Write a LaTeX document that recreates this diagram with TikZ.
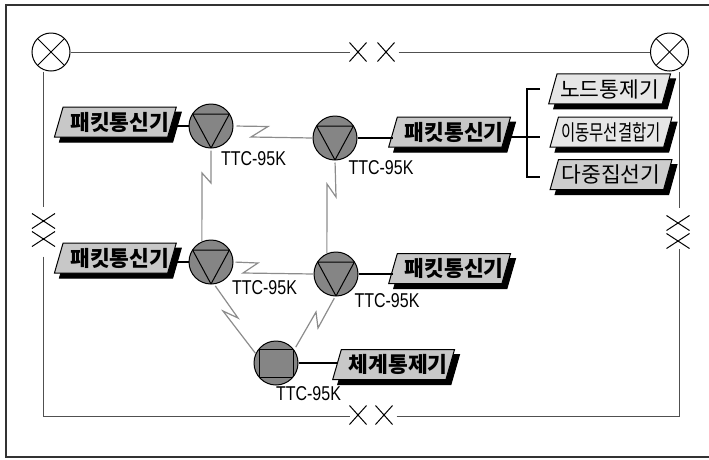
\documentclass[tikz,border=0pt]{standalone}
\usepackage{fontspec}
\newfontfamily\krfont{Noto Sans CJK KR}
\newfontfamily\latfont{Liberation Sans}
\usetikzlibrary{positioning,calc,shadows,shapes.geometric,shapes.misc}
\definecolor{inkgray}{HTML}{505050}
\definecolor{linkgray}{HTML}{8C8C8C}
\definecolor{nodegray}{HTML}{858585}
\definecolor{boxgray}{HTML}{C8C8C8}
\definecolor{boxlight}{HTML}{E6E6E6}
\newcommand{\ttclabel}{\scalebox{0.8}[1]{TTC-95K}}

\begin{document}
\begin{tikzpicture}[
    x=1pt,
    y=-1pt,
    font=\krfont,
    xcirc/.style={
        circle, draw, line width=1pt, inner sep=0pt, minimum size=38pt,
        path picture={
            \draw[line width=1pt] (path picture bounding box.north west) -- (path picture bounding box.south east);
            \draw[line width=1pt] (path picture bounding box.north east) -- (path picture bounding box.south west);
        }
    },
    station/.style={
        circle, draw, line width=1pt, fill=nodegray, inner sep=0pt, minimum size=44pt
    },
    tristation/.style={
        station,
        path picture={
            \draw[line width=1pt] ([shift={(-18.4,-12)}]path picture bounding box.center) -- ([shift={(18.4,-12)}]path picture bounding box.center) -- ([shift={(0,22)}]path picture bounding box.center) -- cycle;
        }
    },
    sqstation/.style={
        station,
        path picture={
            \draw[line width=1pt] ([shift={(-17,-14)}]path picture bounding box.center) rectangle ([shift={(17,14)}]path picture bounding box.center);
        }
    },
    unit/.style={
        trapezium, trapezium left angle=68, trapezium right angle=112,
        trapezium stretches=true,
        draw, line width=1pt, inner sep=0pt,
        minimum width=122pt, minimum height=30pt,
        copy shadow={shadow xshift=5pt, shadow yshift=-5pt, fill=black, draw=black}
    },
    boldunit/.style={unit, fill=boxgray, font=\krfont\fontsize{21.5}{21.5}\selectfont\bfseries,
        execute at begin node=\hspace*{4.5pt}, execute at end node=\hspace*{-4.5pt}},
    plainunit/.style={unit, fill=boxlight, font=\krfont\fontsize{21.5}{21.5}\selectfont},
    model/.style={font=\latfont\fontsize{20}{20}\selectfont, inner sep=0pt},
    xmarkh/.style={cross out, draw, line width=1pt, inner sep=0pt, minimum width=16pt, minimum height=18pt},
    xmarkv/.style={cross out, draw, line width=1pt, inner sep=0pt, minimum width=22pt, minimum height=14pt},
    ring/.style={draw=inkgray, line width=1pt},
    radio/.style={draw=linkgray, line width=1.2pt},
    wire/.style={draw=black, line width=1.1pt}
]
\useasboundingbox (0,0) rectangle (709,459);

% ============================================================
% OUTER FRAME
% ============================================================
\draw[draw=black!80, line width=1.5pt] (709,5) -- (6,5) -- (6,457) -- (709,457);

% ============================================================
% RING
% ============================================================
\node[xcirc] (cnw) at (51,52) {};
\node[xcirc] (cne) at (669.5,52) {};
\coordinate (csw) at (43,416);
\coordinate (cse) at (679,416);

\node[xmarkh] (tx1) at (358,52) {};
\node[xmarkh] (tx2) at (386,52) {};
\node[xmarkh] (bx1) at (358,415) {};
\node[xmarkh] (bx2) at (384,415) {};
\node[xmarkv] (lx1) at (43.5,221) {};
\node[xmarkv] (lx2) at (43.5,239) {};
\node[xmarkv] (rx1) at (678,223) {};
\node[xmarkv] (rx2) at (678,241) {};

\draw[ring, shorten >=7pt] (cnw.south -| csw) -- (lx1.north -| csw);
\draw[ring] (cnw.east) -- (tx1.west);
\draw[ring, shorten <=4pt] (tx2.east) -- (cne.west);
\draw[ring, shorten <=10pt] (lx2.south -| csw) -- (csw) -- (bx1.west |- csw);
\draw[ring, shorten <=4pt] (bx2.east |- cse) -- (cse) -- (rx2.south -| cse);
\draw[ring, shorten <=8pt] (rx1.north -| cse) -- (cne.south -| cse);

% ============================================================
% STATIONS
% ============================================================
\node[tristation] (st1) at (211,126) {};
\node[tristation] (st2) at (335,138) {};
\node[tristation] (st3) at (211,262) {};
\node[tristation] (st4) at (336,274) {};
\node[sqstation] (st5) at (276,363) {};

\node[model] (lb1) at (253.5,159) {\ttclabel};
\node[model] (lb2) at (381,168) {\ttclabel};
\node[model] (lb3) at (264.5,288) {\ttclabel};
\node[model] (lb4) at (387,301) {\ttclabel};
\node[model] (lb5) at (308.5,394) {\ttclabel};

% ============================================================
% UNITS
% ============================================================
\node[boldunit, left=16pt of st1, yshift=4pt] (pkt1) {패킷통신기};
\node[boldunit, right=35pt of st2, yshift=6pt] (pkt2) {패킷통신기};
\node[boldunit, left=16pt of st3, yshift=4pt] (pkt3) {패킷통신기};
\node[boldunit, right=34pt of st4, yshift=5.5pt] (pkt4) {패킷통신기};
\node[boldunit, right=38pt of st5, yshift=-1.5pt] (sys) {체계통제기};

\node[plainunit, right=47pt of pkt2] (mob) {\scalebox{0.72}[1]{이동무선결합기}};
\node[plainunit, above=12pt of mob, xshift=-1.5pt] (ctrl) {노드통제기};
\node[plainunit, fill=boxgray!90, below=11.5pt of mob] (mux) {다중집선기};

\draw[wire] (st1.west) -- (st1.west -| pkt1.east);
\draw[wire] (st2.east) -- (st2.east -| pkt2.west);
\draw[wire] (st3.west) -- (st3.west -| pkt3.east);
\draw[wire] (st4.east) -- (st4.east -| pkt4.west);
\draw[wire] (st5.east) -- (st5.east -| sys.west);

% ============================================================
% BRANCH
% ============================================================
\coordinate (bus) at (527,137);
\coordinate (mobtip) at (540,137);
\coordinate (muxtip) at (540,177);
\draw[wire] (bus -| pkt2.east) -- (mobtip);
\draw[wire] ($(ctrl.west -| bus)+(13,0)$) -- (ctrl.west -| bus) -- (bus |- muxtip) -- (muxtip);

% ============================================================
% RADIO LINKS
% ============================================================
\draw[radio, shorten <=3pt] (st1.east) -- (268,126.5) -- (251,137) -- (st2.west);
\draw[radio, shorten <=2pt] (st1.south) -- (211,183) -- (202,173) -- (st3.114);
\draw[radio, shorten <=2pt] (st2.south) -- (336,197) -- (327,184) -- (st4.114);
\draw[radio, shorten <=2pt] (st3.east) -- (258,263) -- (243,273) -- (st4.west);
\draw[radio, shorten <=2pt] (st3.-82) -- (238,318) -- (223,311) -- (st5.155);
\draw[radio, shorten <=2pt, shorten >=3pt] (st4.-92) -- (318,328) -- (316,312) -- (st5.36);

\end{tikzpicture}
\end{document}
